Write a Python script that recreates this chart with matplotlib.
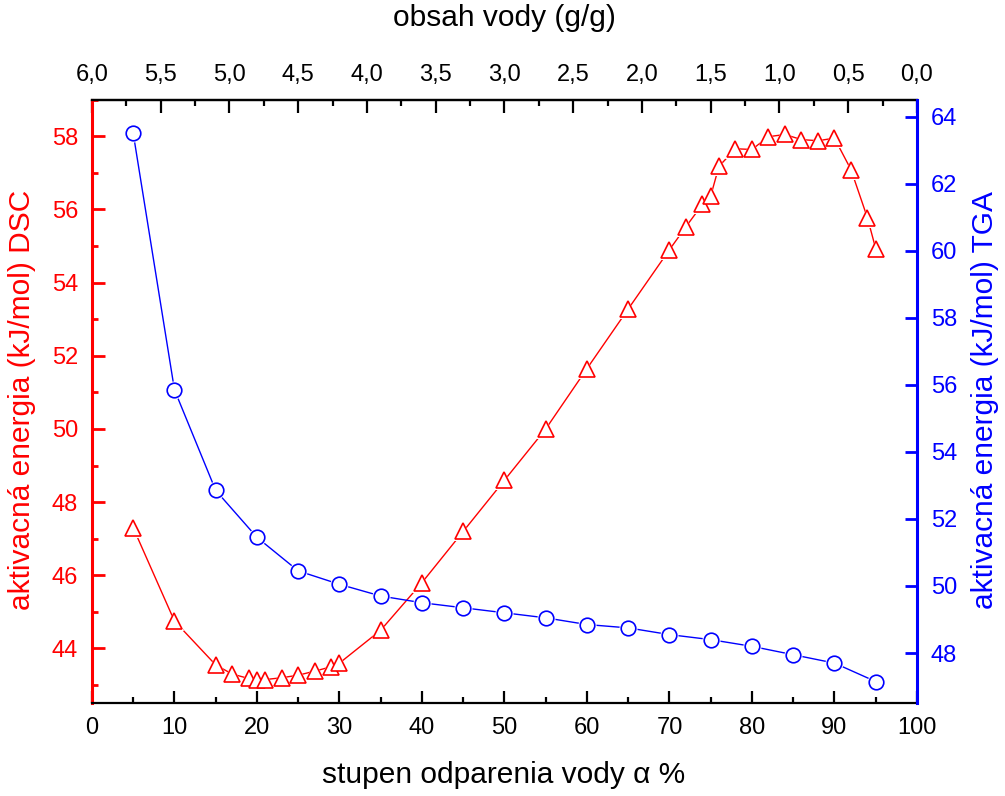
import matplotlib.pyplot as plt
from matplotlib.ticker import MultipleLocator, FuncFormatter

plt.rcParams['font.family'] = ['Liberation Sans', 'DejaVu Sans']

# DSC activation energy (left axis, red triangles)
dsc_x = [5, 10, 15, 17, 19, 20, 21, 23, 25, 27, 29, 30, 35, 40, 45, 50, 55, 60,
         65, 70, 72, 74, 75, 76, 78, 80, 82, 84, 86, 88, 90, 92, 94, 95]
dsc_y = [47.3, 44.75, 43.55, 43.3, 43.18, 43.15, 43.15, 43.2, 43.27, 43.38, 43.5, 43.6,
         44.5, 45.8, 47.2, 48.6, 50.0, 51.65, 53.28, 54.9, 55.53, 56.14, 56.37, 57.18,
         57.66, 57.64, 57.99, 58.05, 57.91, 57.88, 57.95, 57.09, 55.77, 54.93]

# TGA activation energy (right axis, blue circles)
tga_x = [5, 10, 15, 20, 25, 30, 35, 40, 45, 50, 55, 60, 65, 70, 75, 80, 85, 90, 95]
tga_y = [63.5, 55.85, 52.85, 51.45, 50.45, 50.05, 49.7, 49.5, 49.35, 49.2, 49.05,
         48.85, 48.75, 48.55, 48.4, 48.2, 47.95, 47.7, 47.15]

RED = '#ff0000'
BLUE = '#0000ff'

fig = plt.figure(figsize=(10.05, 7.96), dpi=100)
ax = fig.add_axes([0.0915, 0.1164, 0.8209, 0.7583])
ax2 = ax.twinx()

# lines with small gaps round the open markers
ax.plot(dsc_x, dsc_y, color=RED, linewidth=1.0, zorder=2)
ax.plot(dsc_x, dsc_y, linestyle='none', marker='^', markersize=15, mfc='white',
        mec='white', mew=0, zorder=3)
ax.plot(dsc_x, dsc_y, linestyle='none', marker='^', markersize=12, mfc='white',
        mec=RED, mew=1.2, zorder=4)

ax2.plot(tga_x, tga_y, color=BLUE, linewidth=1.0, zorder=2)
ax2.plot(tga_x, tga_y, linestyle='none', marker='o', markersize=13, mfc='white',
         mec='white', mew=0, zorder=3)
ax2.plot(tga_x, tga_y, linestyle='none', marker='o', markersize=10.5, mfc='white',
         mec=BLUE, mew=1.2, zorder=4)

ax.set_xlim(0, 100)
ax.set_ylim(42.5, 59.0)
ax2.set_ylim(46.5, 64.5)

ax.xaxis.set_major_locator(MultipleLocator(10))
ax.xaxis.set_minor_locator(MultipleLocator(5))
ax.yaxis.set_major_locator(MultipleLocator(2))
ax.yaxis.set_minor_locator(MultipleLocator(1))
ax2.yaxis.set_major_locator(MultipleLocator(2))

# top axis: water content (g/g)
top = ax.secondary_xaxis('top', functions=(lambda x: 6 - 0.06 * x, lambda w: (6 - w) / 0.06))
top.xaxis.set_major_locator(MultipleLocator(0.5))
top.xaxis.set_minor_locator(MultipleLocator(0.25))
top.xaxis.set_major_formatter(FuncFormatter(lambda v, p: f"{v:.1f}".replace('.', ',')))

# spines
for s in ['top', 'bottom']:
    ax.spines[s].set_linewidth(1.6)
ax.spines['left'].set_color(RED)
ax.spines['left'].set_linewidth(2.2)
ax.spines['right'].set_visible(False)
ax2.spines['left'].set_visible(False)
ax2.spines['top'].set_visible(False)
ax2.spines['bottom'].set_visible(False)
ax2.spines['right'].set_color(BLUE)
ax2.spines['right'].set_linewidth(2.2)
top.spines['top'].set_linewidth(1.6)

ax.tick_params(axis='x', which='major', direction='in', length=9, width=1.6, labelsize=17, pad=10)
ax.tick_params(axis='x', which='minor', direction='in', length=4.5, width=1.6)
ax.tick_params(axis='y', which='major', direction='in', length=9, width=2.0, color=RED,
               labelcolor=RED, labelsize=17, pad=10)
ax.tick_params(axis='y', which='minor', direction='in', length=4.5, width=2.0, color=RED)
ax2.tick_params(axis='y', which='major', direction='in', length=9, width=2.0, color=BLUE,
                labelcolor=BLUE, labelsize=17, pad=10)
top.tick_params(axis='x', which='major', direction='in', length=9, width=1.6, labelsize=17, pad=10)
top.tick_params(axis='x', which='minor', direction='in', length=4.5, width=1.6)

# axis titles
fig.text(22 / 1005, 1 - 400 / 796, "aktivacná energia (kJ/mol) DSC", rotation=90,
         ha='center', va='center', color=RED, fontsize=21.5)
fig.text(985 / 1005, 1 - 400 / 796, "aktivacná energia (kJ/mol) TGA", rotation=90,
         ha='center', va='center', color=BLUE, fontsize=21.5)
fig.text(504 / 1005, 1 - 775 / 796, "stupen odparenia vody α %", ha='center', va='center',
         color='black', fontsize=21.5)
fig.text(504 / 1005, 1 - 18 / 796, "obsah vody (g/g)", ha='center', va='center',
         color='black', fontsize=21.5)

fig.savefig('out.png', dpi=100)
